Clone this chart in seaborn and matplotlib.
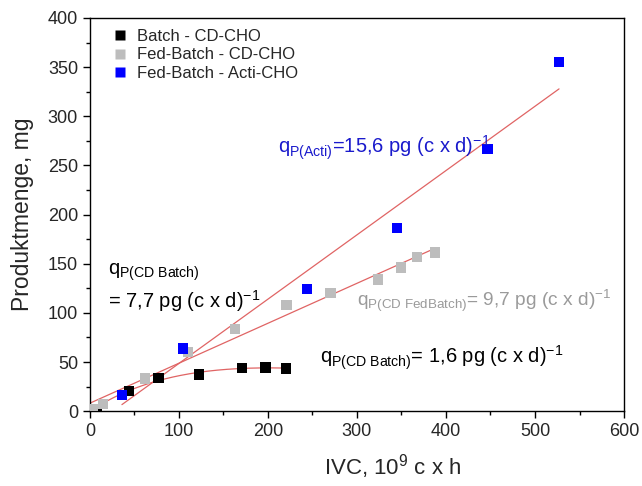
import numpy as np
import pandas as pd
import matplotlib
matplotlib.use("Agg")
import matplotlib.pyplot as plt
import seaborn as sns
from matplotlib.ticker import MultipleLocator

# ---- data ----
batch_x = [8, 44, 77, 122.5, 171, 197.4, 220.6]
batch_y = [2, 20.4, 33.6, 37.3, 44.0, 44.5, 43.5]

fed_x = [3, 15, 61.8, 110.5, 163, 221, 270.4, 323.5, 349.4, 367.8, 387.3]
fed_y = [2, 7, 33.2, 60.4, 83.5, 108, 120.5, 134, 146, 157, 161.5]

acti_x = [36, 104.5, 243.5, 344.6, 446.8, 527]
acti_y = [16.3, 63.8, 124, 186.4, 266.8, 355]

labels = ["Batch - CD-CHO", "Fed-Batch - CD-CHO", "Fed-Batch - Acti-CHO"]
colors = ["#000000", "#bdbdbd", "#0000ff"]

df = pd.concat([
    pd.DataFrame({"IVC": batch_x, "P": batch_y, "Serie": labels[0]}),
    pd.DataFrame({"IVC": fed_x, "P": fed_y, "Serie": labels[1]}),
    pd.DataFrame({"IVC": acti_x, "P": acti_y, "Serie": labels[2]}),
])

sns.set_style("ticks")
plt.rcParams["font.family"] = ["Liberation Sans", "DejaVu Sans"]
plt.rcParams["mathtext.fontset"] = "custom"
plt.rcParams["mathtext.rm"] = "Liberation Sans"
plt.rcParams["mathtext.it"] = "Liberation Sans"
plt.rcParams["axes.unicode_minus"] = False

fig = plt.figure(figsize=(6.42, 4.86), dpi=100)
ax = fig.add_axes([0.140, 0.154, 0.832, 0.809])

line_c = "#e06464"

# linear fits
for xs, ys, x0 in [(acti_x, acti_y, acti_x[0]), (fed_x, fed_y, 0)]:
    p = np.polyfit(xs, ys, 1)
    xx = np.array([x0, max(xs)])
    ax.plot(xx, np.polyval(p, xx), color=line_c, lw=0.9, zorder=1)

# saturating fit for batch
bx = np.array(batch_x); by = np.array(batch_y)
best = None
for k in np.linspace(5, 300, 600):
    M = np.column_stack([1 - np.exp(-bx / k), bx])
    coef, res, *_ = np.linalg.lstsq(M, by, rcond=None)
    r = np.sum((M @ coef - by) ** 2)
    if best is None or r < best[0]:
        best = (r, k, coef)
_, k, coef = best
xx = np.linspace(0, max(batch_x), 200)
ax.plot(xx, coef[0] * (1 - np.exp(-xx / k)) + coef[1] * xx, color=line_c, lw=0.9, zorder=1)

sns.scatterplot(data=df, x="IVC", y="P", hue="Serie", palette=dict(zip(labels, colors)),
                marker="s", s=55, edgecolor="none", ax=ax, zorder=3, legend=True)

ax.set_xlim(0, 600)
ax.set_ylim(0, 400)
ax.xaxis.set_major_locator(MultipleLocator(100))
ax.xaxis.set_minor_locator(MultipleLocator(50))
ax.yaxis.set_major_locator(MultipleLocator(50))
ax.yaxis.set_minor_locator(MultipleLocator(25))
ax.tick_params(which="major", length=5, width=1, labelsize=13, color="black")
ax.tick_params(which="minor", length=3, width=1, color="black")
for s in ax.spines.values():
    s.set_color("black")
    s.set_linewidth(1)

ax.set_xlabel("IVC, 10$^{\\mathregular{9}}$ c x h", fontsize=16)
ax.set_ylabel("Produktmenge, mg", fontsize=16.5)
ax.xaxis.set_label_coords(0.566, -0.105)
ax.yaxis.set_label_coords(-0.105, 0.5)

leg = ax.legend(loc="upper left", bbox_to_anchor=(0.01, 1.01), frameon=False,
                fontsize=12, handletextpad=0.4, labelspacing=0.2, markerscale=1.0,
                handlelength=1.2)

sup = r"$^{\mathregular{-1}}$"
ax.text(211, 268, r"q$_{\mathregular{P(Acti)}}$=15,6 pg (c x d)" + sup,
        color="#1a1acc", fontsize=14.5, va="center", ha="left")
ax.text(20, 141, r"q$_{\mathregular{P(CD\ Batch)}}$", color="black", fontsize=14.5,
        va="center", ha="left")
ax.text(20, 112, r"= 7,7 pg (c x d)" + sup, color="black", fontsize=14.5,
        va="center", ha="left")
ax.text(300, 112, r"q$_{\mathregular{P(CD\ FedBatch)}}$= 9,7 pg (c x d)" + sup,
        color="#9a9a9a", fontsize=13.8, va="center", ha="left")
ax.text(258, 54, r"q$_{\mathregular{P(CD\ Batch)}}$= 1,6 pg (c x d)" + sup,
        color="black", fontsize=14.5, va="center", ha="left")

fig.savefig("out.png", dpi=100)
